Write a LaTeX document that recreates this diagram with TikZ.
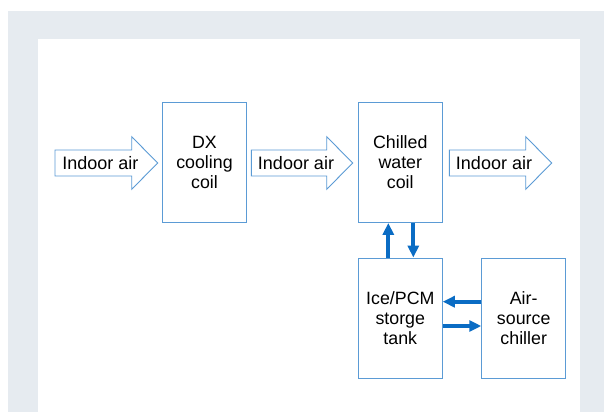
\documentclass[tikz,border=0pt]{standalone}
\usepackage{fontspec}
\setmainfont{Liberation Sans}
\usetikzlibrary{arrows.meta}
\definecolor{bgGray}{HTML}{E6EBF0}
\definecolor{boxBlue}{HTML}{5B9BD5}
\definecolor{flowBlue}{HTML}{0A6CC4}
\begin{document}
\begin{tikzpicture}[x=1pt,y=-1pt,
  unitbox/.style={draw=boxBlue,line width=0.9pt,fill=white,minimum width=84pt,minimum height=120pt,inner sep=0pt,align=center,font=\fontsize{17.8}{20}\selectfont},
  blockarrow/.style={draw=boxBlue,line width=0.9pt,fill=white,line join=miter},
  lbl/.style={font=\fontsize{18}{20}\selectfont,inner sep=0pt},
  flow/.style={draw=flowBlue,line width=4pt,-{Triangle[length=12pt,width=11pt]}}
]
\useasboundingbox (0,0) rectangle (604,412);
\fill[bgGray] (8,11) rectangle (604,412);
\fill[white] (38,39) rectangle (580,412);

\node[unitbox] (dx) at (204.5,162.2) {DX\\cooling\\coil};
\node[unitbox] (chw) at (400.3,162.5) {Chilled\\water\\coil};
\node[unitbox] (ice) at (400.3,318) {Ice/PCM\\storge\\tank};
\node[unitbox] (ach) at (523.7,318) {Air-\\source\\chiller};

\draw[blockarrow] (55,150) -- (131.7,150) -- (131.7,136.7) -- (157.7,163) -- (131.7,189.3) -- (131.7,176) -- (55,176) -- cycle;
\node[lbl] (t1) at (100.3,163) {Indoor air};
\draw[blockarrow] (251.3,150) -- (326.7,150) -- (326.7,136.7) -- (352.7,163) -- (326.7,189.3) -- (326.7,176) -- (251.3,176) -- cycle;
\node[lbl] (t2) at (296,163) {Indoor air};
\draw[blockarrow] (449.3,150) -- (525.7,150) -- (525.7,136.7) -- (551.7,163) -- (525.7,189.3) -- (525.7,176) -- (449.3,176) -- cycle;
\node[lbl] (t3) at (494,163) {Indoor air};

\draw[flow] ([xshift=-12pt]ice.north) -- ([xshift=-12pt]chw.south);
\draw[flow] ([xshift=13pt]chw.south) -- ([xshift=13pt]ice.north);
\draw[flow] ([yshift=16.3pt]ach.west) -- ([yshift=16.3pt]ice.east);
\draw[flow] ([yshift=-8pt]ice.east) -- ([yshift=-8pt]ach.west);
\end{tikzpicture}
\end{document}
